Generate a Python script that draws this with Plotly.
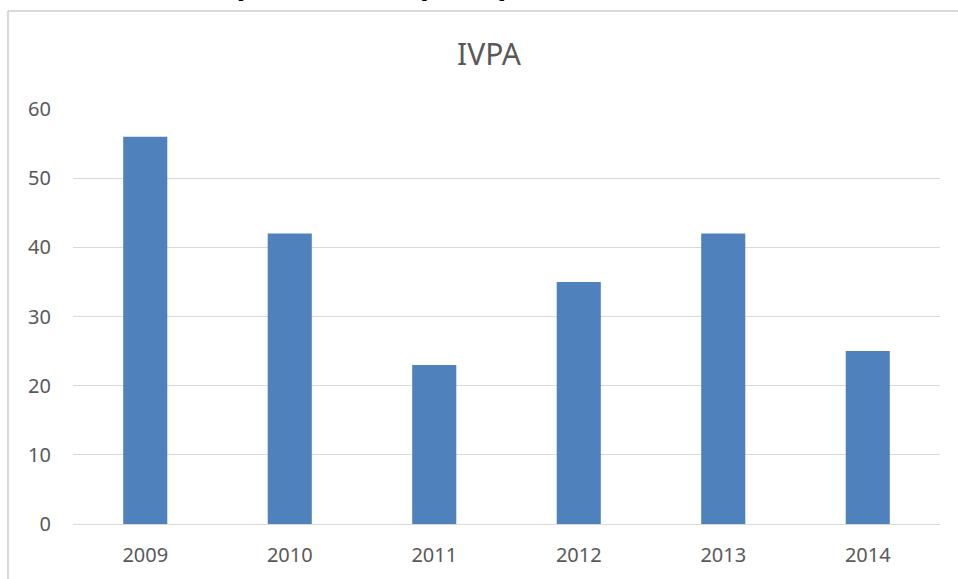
import plotly.graph_objects as go

years = ['2009', '2010', '2011', '2012', '2013', '2014']
ivpa = [56, 42, 23, 35, 42, 25]

fig = go.Figure()
fig.add_trace(go.Bar(x=years, y=ivpa, marker_color='#4f81bd', marker_line_width=0))

grey = '#595959'
fig.update_layout(
    width=958, height=579,
    margin=dict(l=73, r=18, t=109, b=55),
    plot_bgcolor='white', paper_bgcolor='white',
    font=dict(family='Noto Sans', color=grey, size=20),
    bargap=0.695,
    showlegend=False,
    xaxis=dict(showgrid=False, ticks='', showline=False, zeroline=False,
               ticklabelstandoff=17),
    yaxis=dict(range=[0, 60], dtick=10, gridcolor='#d9d9d9', gridwidth=1,
               zeroline=True, zerolinecolor='#d9d9d9', zerolinewidth=1,
               ticks='', ticklabelstandoff=21),
)
fig.add_annotation(text='IVPA', xref='paper', yref='paper', x=0.48, y=1.188,
                   showarrow=False, font=dict(size=30, color=grey))
# chart frame (only left and top edges are in view)
fig.add_shape(type='line', xref='paper', yref='paper', x0=-0.075, x1=1.1,
              y0=1.236, y1=1.236, line=dict(color='#d9d9d9', width=2))
fig.add_shape(type='line', xref='paper', yref='paper', x0=-0.075, x1=-0.075,
              y0=1.236, y1=-0.2, line=dict(color='#d9d9d9', width=2))
# page heading, cut off by the top edge as in the source
fig.add_annotation(text='<b>Incidence of pneumonia (IVPA)</b>', xref='paper', yref='paper',
                   x=0.506, xanchor='right', y=1.2565, yanchor='bottom', showarrow=False,
                   font=dict(size=32, color='black', family='Liberation Sans'))

fig.write_html('out.html', config={'displayModeBar': False},
               post_script="document.body.style.margin='0';")
